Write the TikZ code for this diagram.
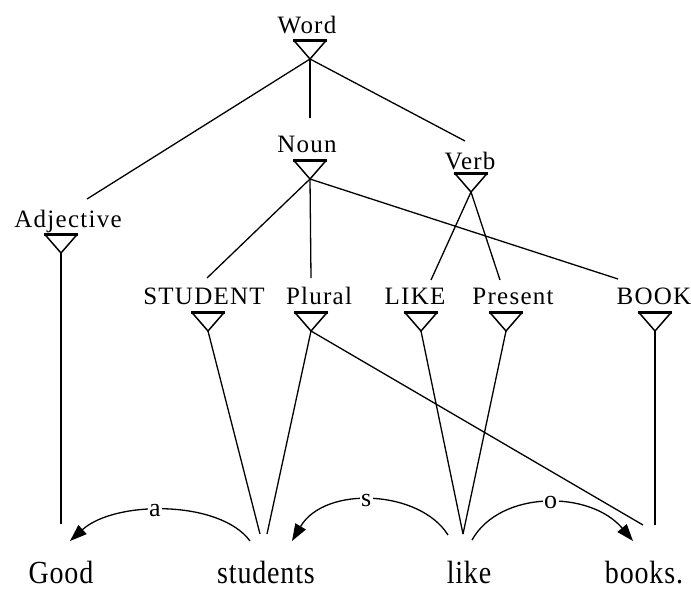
\documentclass[tikz,border=0pt]{standalone}
\usepackage{fontspec}
\setmainfont{Liberation Serif}
\newfontfamily\lblfont[LetterSpace=5]{Liberation Serif}
\newfontfamily\wordfont[LetterSpace=3]{Liberation Serif}
\usetikzlibrary{arrows.meta}
\newcommand\tallword[1]{\scalebox{1}[1.15]{#1}}
\tikzset{
  tri/.pic={
    \draw[line width=1.5pt,line join=miter] (-16.5,0) -- (0,19) -- (16.5,0);
    \draw[line width=3pt] (-17,0) -- (17,0);
    \coordinate (-apex) at (0,19);
  }
}
\begin{document}
\begin{tikzpicture}[x=1pt,y=-1pt,
  cat/.style={anchor=base,inner sep=0pt,font=\lblfont\fontsize{25}{30}\selectfont},
  wrd/.style={anchor=base,inner sep=0pt,text depth=0pt,font=\wordfont\fontsize{28}{32}\selectfont},
  link/.style={line width=1.3pt},
  dep/.style={line width=1.3pt,-{Triangle[length=17pt,width=12pt]}},
  deplbl/.style={fill=white,inner sep=1.5pt,font=\fontsize{26}{30}\selectfont}
]
\useasboundingbox (0,0) rectangle (691,590);

% category labels
\node[cat] (word) at (307,33) {Word};
\node[cat] (noun) at (307,152) {Noun};
\node[cat] (verb) at (470,169) {Verb};
\node[cat] (adj) at (68,227) {Adjective};
\node[cat] (student) at (204,304) {STUDENT};
\node[cat] (plural) at (319,304) {Plural};
\node[cat] (like) at (415,304) {LIKE};
\node[cat] (present) at (513,304) {Present};
\node[cat] (book) at (654,304) {BOOK};

% triangles
\pic (tWord) at (310,40) {tri};
\pic (tNoun) at (310,160) {tri};
\pic (tVerb) at (471,173) {tri};
\pic (tAdj) at (61,234) {tri};
\pic (tStudent) at (208,312) {tri};
\pic (tPlural) at (311,312) {tri};
\pic (tLike) at (421,312) {tri};
\pic (tPresent) at (506,312) {tri};
\pic (tBook) at (655,312) {tri};

% words
\node[wrd] (good) at (61,583) {\tallword{Good}};
\node[wrd] (students) at (266,583) {\tallword{students}};
\node[wrd] (likew) at (469,583) {\tallword{like}};
\node[wrd] (books) at (644,583) {\tallword{books.}};

% connector ends
\coordinate (adjTop) at (87,199);
\coordinate (nounTop) at (310,118);
\coordinate (verbTop) at (465,141);
\coordinate (studentTop) at (207,278);
\coordinate (pluralTop) at (311,278);
\coordinate (bookTop) at (618,279);
\coordinate (likeTop) at (431,280);
\coordinate (presentTop) at (500,280);
\coordinate (goodTop) at (61,524);
\coordinate (studentsTopA) at (260,534);
\coordinate (studentsTopB) at (267,534);
\coordinate (likewTop) at (463,534);
\coordinate (booksTopA) at (643,525);
\coordinate (booksTopB) at (655,525);

% isa links
\draw[link] (tWord-apex) -- (adjTop);
\draw[link] (tWord-apex) -- (nounTop);
\draw[link] (tWord-apex) -- (verbTop);
\draw[link] (tNoun-apex) -- (studentTop);
\draw[link] (tNoun-apex) -- (pluralTop);
\draw[link] (tNoun-apex) -- (bookTop);
\draw[link] (tVerb-apex) -- (likeTop);
\draw[link] (tVerb-apex) -- (presentTop);

% word links
\draw[link] (tAdj-apex) -- (goodTop);
\draw[link] (tStudent-apex) -- (studentsTopA);
\draw[link] (tPlural-apex) -- (studentsTopB);
\draw[link] (tPlural-apex) -- (booksTopA);
\draw[link] (tLike-apex) -- (likewTop);
\draw[link] (tPresent-apex) -- (likewTop);
\draw[link] (tBook-apex) -- (booksTopB);

% dependencies
\coordinate (aStart) at (250,541);
\coordinate (aEnd) at (70,541);
\coordinate (sStart) at (448,535);
\coordinate (sEnd) at (292,541);
\coordinate (oStart) at (472,540);
\coordinate (oEnd) at (633,541);
\draw[dep] (aStart) .. controls (220,500) and (115,500) .. node[deplbl,pos=0.55] (la) {a} (aEnd);
\draw[dep] (sStart) .. controls (420,490) and (325,485) .. node[deplbl,pos=0.53] (ls) {s} (sEnd);
\draw[dep] (oStart) .. controls (500,490) and (590,490) .. node[deplbl,pos=0.52] (lo) {o} (oEnd);
\end{tikzpicture}
\end{document}
